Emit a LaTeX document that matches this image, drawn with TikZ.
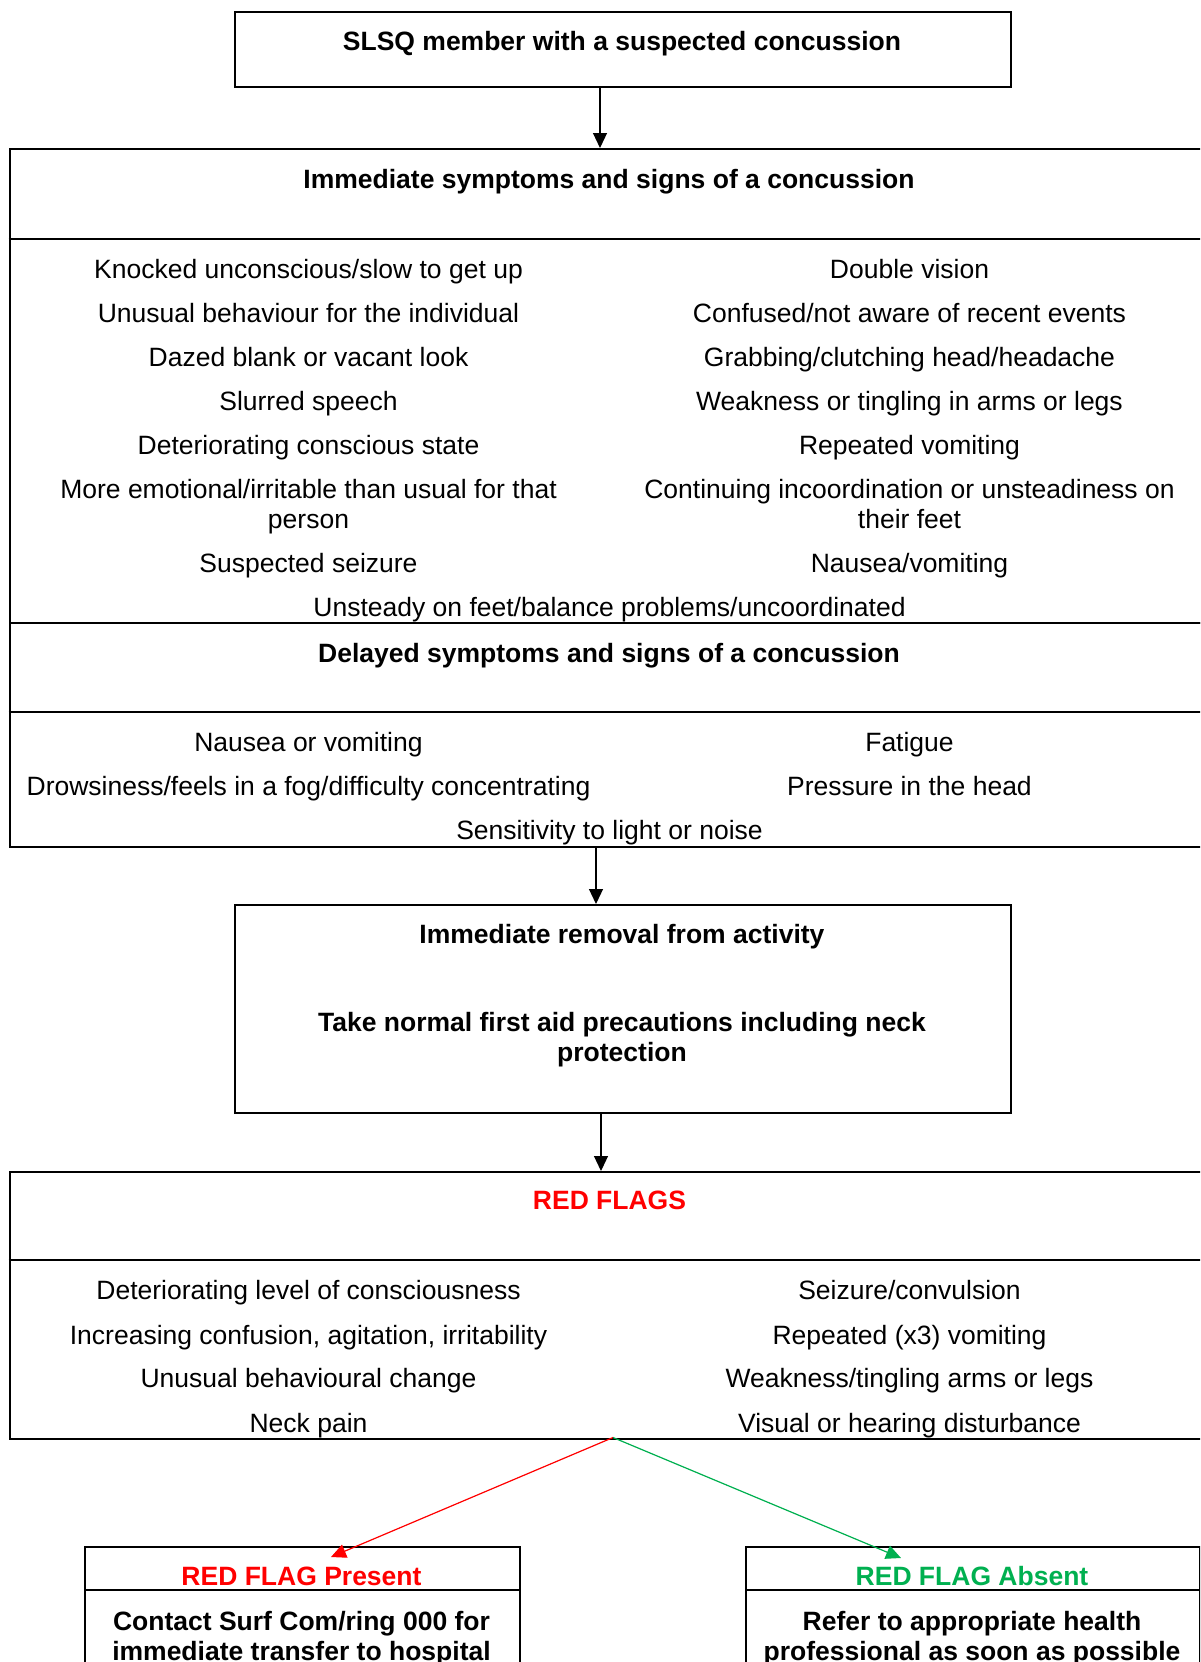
\documentclass[tikz,border=0pt]{standalone}
\usepackage{fontspec}
\setmainfont{Liberation Sans}
\usetikzlibrary{arrows.meta}
\definecolor{flagred}{RGB}{255,0,0}
\definecolor{flaggreen}{RGB}{0,176,80}
\newcommand{\dfont}{\fontsize{26.5}{30}\selectfont}
\tikzset{
  box/.style={draw=black, line width=2pt, inner sep=0pt, anchor=north west},
  rule/.style={draw=black, line width=2pt},
  item/.style={inner sep=0pt, font=\dfont, text height=19pt, text depth=5.6pt, yshift=-3.2pt},
  head/.style={item, font=\dfont\bfseries},
  multi/.style={inner sep=0pt, font=\dfont, align=center, anchor=north, yshift=-3.2pt},
  multib/.style={multi, font=\dfont\bfseries},
  conn/.style={line width=1.2pt, -{Triangle[length=15pt,width=14pt]}}
}
\begin{document}
\begin{tikzpicture}[x=1pt,y=-1pt]
\clip (0,0) rectangle (1200,1662);
\fill[white] (0,0) rectangle (1200,1662);

% boxes
\node[box, minimum width=776pt, minimum height=75pt] (topbox) at (234,11) {};
\node[box, minimum width=1201pt, minimum height=474pt] (symbox) at (8.5,148) {};
\node[box, minimum width=1201pt, minimum height=224pt] (delbox) at (8.5,622) {};
\node[box, minimum width=776pt, minimum height=208pt] (rembox) at (234,904) {};
\node[box, minimum width=1201pt, minimum height=266.5pt] (flagbox) at (8.5,1171) {};
\node[box, minimum width=435pt, minimum height=200pt] (presbox) at (84,1545.6) {};
\node[box, minimum width=454pt, minimum height=200pt] (absbox) at (745,1545.6) {};

% header dividers
\draw[rule] (8.5,238.5) -- (1215,238.5);
\draw[rule] (8.5,712) -- (1215,712);
\draw[rule] (8.5,1260) -- (1215,1260);
\draw[rule] (84,1590) -- (519,1590);
\draw[rule] (745,1590) -- (1199,1590);

% top box
\node[head] (t0) at (622,41) {SLSQ member with a suspected concussion};

% immediate symptoms
\node[head] (h1) at (609,179) {Immediate symptoms and signs of a concussion};
\node[item] (l1) at (308.5,269) {Knocked unconscious/slow to get up};
\node[item] (l2) at (308.5,313) {Unusual behaviour for the individual};
\node[item] (l3) at (308.5,357) {Dazed blank or vacant look};
\node[item] (l4) at (308.5,401) {Slurred speech};
\node[item] (l5) at (308.5,445) {Deteriorating conscious state};
\node[multi] (l6) at (308.5,476) {More emotional/irritable than usual for that\\person};
\node[item] (l7) at (308.5,563) {Suspected seizure};
\node[item] (r1) at (909.5,269) {Double vision};
\node[item] (r2) at (909.5,313) {Confused/not aware of recent events};
\node[item] (r3) at (909.5,357) {Grabbing/clutching head/headache};
\node[item] (r4) at (909.5,401) {Weakness or tingling in arms or legs};
\node[item] (r5) at (909.5,445) {Repeated vomiting};
\node[multi] (r6) at (909.5,476) {Continuing incoordination or unsteadiness on\\their feet};
\node[item] (r7) at (909.5,563) {Nausea/vomiting};
\node[item] (c1) at (609.5,606.5) {Unsteady on feet/balance problems/uncoordinated};

% delayed symptoms
\node[head] (h2) at (609,653) {Delayed symptoms and signs of a concussion};
\node[item] (dl1) at (308.5,742) {Nausea or vomiting};
\node[item] (dl2) at (308.5,785.5) {Drowsiness/feels in a fog/difficulty concentrating};
\node[item] (dr1) at (909.5,742) {Fatigue};
\node[item] (dr2) at (909.5,785.5) {Pressure in the head};
\node[item] (dc1) at (609.5,830) {Sensitivity to light or noise};

% removal box
\node[head] (rm1) at (622,934) {Immediate removal from activity};
\node[multib] (rm2) at (622,1009) {Take normal first aid precautions including neck\\protection};

% red flags
\node[head, text=flagred] (h3) at (609.5,1200) {RED FLAGS};
\node[item] (fl1) at (308.5,1290) {Deteriorating level of consciousness};
\node[item] (fl2) at (308.5,1334.5) {Increasing confusion, agitation, irritability};
\node[item] (fl3) at (308.5,1378) {Unusual behavioural change};
\node[item] (fl4) at (308.5,1422.5) {Neck pain};
\node[item] (fr1) at (909.5,1290) {Seizure/convulsion};
\node[item] (fr2) at (909.5,1334.5) {Repeated (x3) vomiting};
\node[item] (fr3) at (909.5,1378) {Weakness/tingling arms or legs};
\node[item] (fr4) at (909.5,1422.5) {Visual or hearing disturbance};

% outcome boxes
\node[head, text=flagred] (p1) at (301.5,1576) {RED FLAG Present};
\node[multib] (p2) at (301.5,1608) {Contact Surf Com/ring 000 for\\immediate transfer to hospital};
\node[head, text=flaggreen] (a1) at (972,1576) {RED FLAG Absent};
\node[multib] (a2) at (972,1608) {Refer to appropriate health\\professional as soon as possible};

% connectors
\coordinate (ax1) at (600,0);
\coordinate (ax2) at (596,0);
\coordinate (ax3) at (601,0);
\draw[conn] (topbox.south -| ax1) -- (symbox.north -| ax1);
\draw[conn] (delbox.south -| ax2) -- (rembox.north -| ax2);
\draw[conn] (rembox.south -| ax3) -- (flagbox.north -| ax3);
\coordinate (split) at (613,1437.5);
\coordinate (redtip) at (331,1557);
\coordinate (greentip) at (901,1558);
\draw[conn, draw=flagred, fill=flagred] (split) -- (redtip);
\draw[conn, draw=flaggreen, fill=flaggreen] (split) -- (greentip);
\end{tikzpicture}
\end{document}
